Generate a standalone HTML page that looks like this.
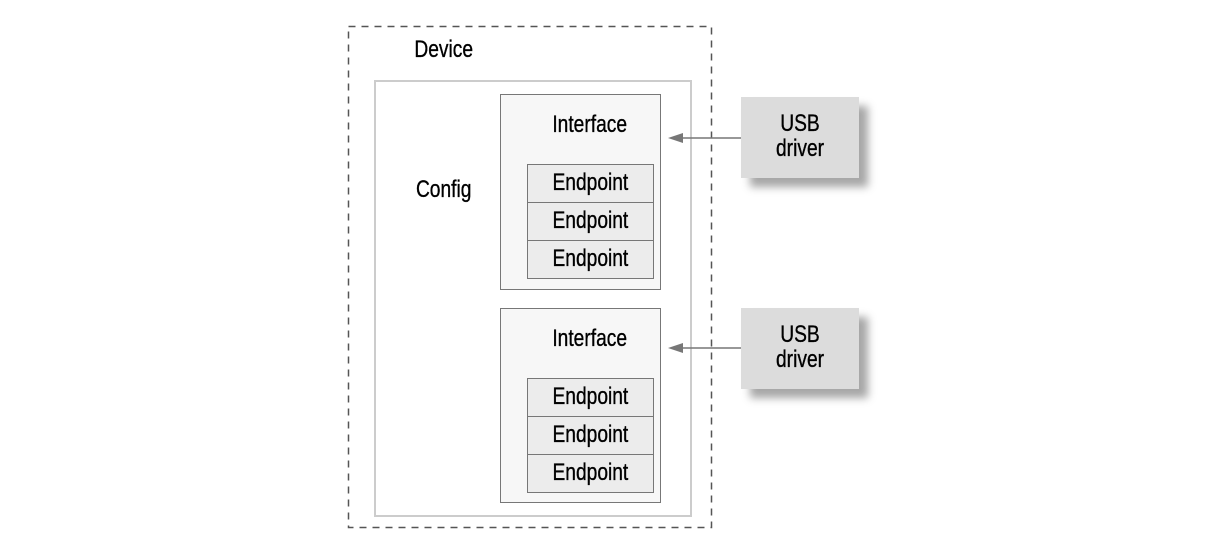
<!DOCTYPE html>
<html><head><style>
body{margin:0;width:1226px;height:550px;background:#fff;position:relative;overflow:hidden;font-family:"Liberation Sans",sans-serif;color:#000;-webkit-text-stroke:0.35px #000}
div{position:absolute;box-sizing:border-box}
span{display:inline-block;transform:scaleX(0.8);transform-origin:center}
.t{font-size:24px;text-align:center;white-space:nowrap}
.ep{left:527px;width:127px;height:39px;border:1.5px solid #777;background:#ececec;font-size:24px;text-align:center;line-height:35px}
.usb{width:118px;height:81px;background:#dcdcdc;box-shadow:9px 9px 8px rgba(0,0,0,0.35);font-size:24px;text-align:center;line-height:25px;padding-top:14px}
</style></head><body>
<svg width="1226" height="550" style="position:absolute;left:0;top:0">
<rect x="348.5" y="26.5" width="363" height="501" fill="none" stroke="#555" stroke-width="1.5" stroke-dasharray="7,6"/>
</svg>
<div class="t" style="left:400px;top:36px;width:88px"><span>Device</span></div>
<div style="left:374px;top:80px;width:318px;height:437px;border:2px solid #ccc"></div>
<div class="t" style="left:400px;top:176px;width:88px"><span>Config</span></div>

<div style="left:500px;top:94px;width:161px;height:196px;border:1.5px solid #777;background:#f7f7f7"></div>
<div class="t" style="left:530px;top:111px;width:120px"><span>Interface</span></div>
<div class="ep" style="top:164px"><span>Endpoint</span></div>
<div class="ep" style="top:202px"><span>Endpoint</span></div>
<div class="ep" style="top:240px"><span>Endpoint</span></div>

<div style="left:500px;top:308px;width:161px;height:195px;border:1.5px solid #777;background:#f7f7f7"></div>
<div class="t" style="left:530px;top:325px;width:120px"><span>Interface</span></div>
<div class="ep" style="top:378px"><span>Endpoint</span></div>
<div class="ep" style="top:416px"><span>Endpoint</span></div>
<div class="ep" style="top:454px"><span>Endpoint</span></div>

<div class="usb" style="left:741px;top:97px"><span>USB<br>driver</span></div>
<div class="usb" style="left:741px;top:308px"><span>USB<br>driver</span></div>

<svg width="1226" height="550" style="position:absolute;left:0;top:0">
<g stroke="#777" stroke-width="1.5" fill="#777">
<line x1="680" y1="138" x2="741" y2="138"/><polygon points="668,138 683,133 683,143" stroke="none"/>
<line x1="680" y1="348" x2="741" y2="348"/><polygon points="668,348 683,343 683,353" stroke="none"/>
</g></svg>
</body></html>
